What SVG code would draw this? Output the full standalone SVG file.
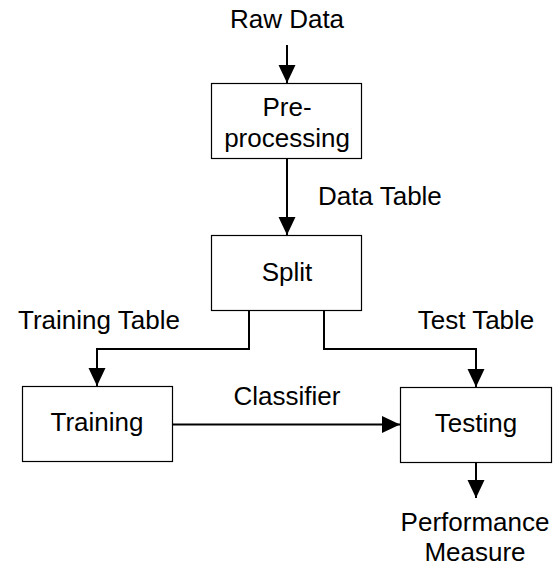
<svg xmlns="http://www.w3.org/2000/svg" width="553" height="566" viewBox="0 0 553 566">
<style>
.box{fill:#fff;stroke:#000;stroke-width:1.2}
.t{font-family:"Liberation Sans",Arial,sans-serif;font-size:26px;fill:#000;text-anchor:middle}
.c{fill:none;stroke:#000;stroke-width:2}
</style>
<defs>
<marker id="ah" markerUnits="userSpaceOnUse" markerWidth="18" markerHeight="18" refX="18" refY="8.5" orient="auto" viewBox="0 0 18 17">
<path d="M0,0 L18,8.5 L0,17 z" fill="#000"/>
</marker>
</defs>
<rect width="553" height="566" fill="#fff"/>
<g id="connectors">
<path class="c" d="M287,45 V83" marker-end="url(#ah)"/>
<path class="c" d="M287,159 V235" marker-end="url(#ah)"/>
<path class="c" d="M249,311 V349 H97 V386" marker-end="url(#ah)"/>
<path class="c" d="M324,311 V349 H476 V387" marker-end="url(#ah)"/>
<path class="c" d="M173,424.5 H400" marker-end="url(#ah)"/>
<path class="c" d="M476,462 V498" marker-end="url(#ah)"/>
</g>
<g id="labels">
<text class="t" x="287" y="28">Raw Data</text>
<text class="t" x="318" y="205" style="text-anchor:start">Data Table</text>
<text class="t" x="99" y="329">Training Table</text>
<text class="t" x="476" y="329">Test Table</text>
<text class="t" x="287" y="405">Classifier</text>
<text class="t" x="475" y="531">Performance</text>
<text class="t" x="475" y="561">Measure</text>
</g>
<g id="preprocessing">
<rect class="box" x="211.5" y="83.5" width="150" height="75"/>
<text class="t" x="287" y="116">Pre-</text>
<text class="t" x="287" y="147">processing</text>
</g>
<g id="split">
<rect class="box" x="211.5" y="235.5" width="150" height="75"/>
<text class="t" x="287" y="281">Split</text>
</g>
<g id="training">
<rect class="box" x="22.5" y="386.5" width="150" height="75"/>
<text class="t" x="97" y="431">Training</text>
</g>
<g id="testing">
<rect class="box" x="400.5" y="387.5" width="151" height="75"/>
<text class="t" x="476" y="432">Testing</text>
</g>
</svg>
